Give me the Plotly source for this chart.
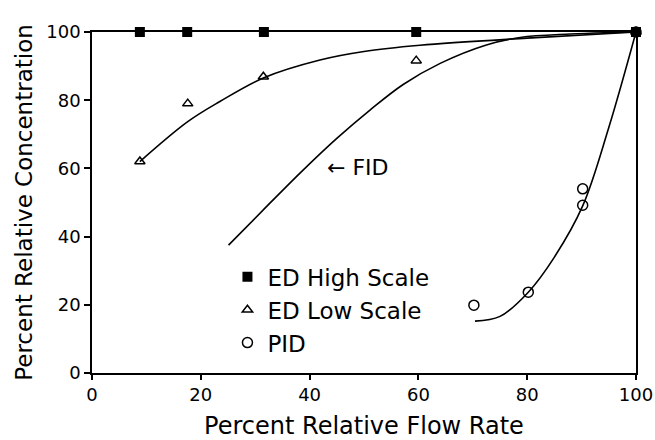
import plotly.graph_objects as go

# Measured points
ed_high_x = [8.8, 17.5, 31.6, 59.6, 100]
ed_high_y = [100, 100, 100, 100, 100]

ed_low_x = [8.8, 17.6, 31.5, 59.6, 100]
ed_low_y = [62.0, 79.0, 86.9, 91.6, 100]

pid_x = [70.2, 80.2, 90.2, 90.2, 100]
pid_y = [19.9, 23.7, 54.0, 49.2, 100]

# Fitted curves
ed_low_fit_x = [8.8, 17.6, 23.5, 31.6, 41.9, 50.0, 60.3, 80.0, 100]
ed_low_fit_y = [62.0, 73.7, 79.6, 86.6, 91.8, 94.3, 96.1, 98.2, 100]

fid_fit_x = [25.1, 32.7, 38.8, 45.0, 51.1, 57.2, 64.0, 72.5, 78.7, 87.9, 100]
fid_fit_y = [37.5, 49.8, 59.5, 68.8, 77.1, 84.6, 90.8, 96.2, 98.4, 99.4, 100]

pid_fit_x = [70.4, 75.0, 80.2, 85.0, 90.2, 95.0, 100]
pid_fit_y = [15.2, 16.6, 23.7, 34.0, 49.0, 72.0, 100]

x_ticks = [0, 20, 40, 60, 80, 100]
y_ticks = [0, 20, 40, 60, 80, 100]

FONT = "DejaVu Sans"
line_style = dict(color="black", width=1.6, shape="spline", smoothing=1.0)

fig = go.Figure()
for fx, fy in [(ed_low_fit_x, ed_low_fit_y), (fid_fit_x, fid_fit_y), (pid_fit_x, pid_fit_y)]:
    fig.add_trace(go.Scatter(x=fx, y=fy, mode="lines", line=line_style,
                             showlegend=False, hoverinfo="skip"))

fig.add_trace(go.Scatter(x=ed_low_x, y=ed_low_y, mode="markers", name="ED Low Scale",
                         cliponaxis=False, legendrank=2,
                         marker=dict(symbol="triangle-up-open", size=9, color="black",
                                     line=dict(width=1.5, color="black"))))
fig.add_trace(go.Scatter(x=pid_x, y=pid_y, mode="markers", name="PID",
                         cliponaxis=False, legendrank=3,
                         marker=dict(symbol="circle-open", size=10, color="black",
                                     line=dict(width=1.5, color="black"))))
fig.add_trace(go.Scatter(x=ed_high_x, y=ed_high_y, mode="markers", name="ED High Scale",
                         cliponaxis=False, legendrank=1,
                         marker=dict(symbol="square", size=10, color="black")))

fig.add_annotation(x=42.8, y=60.4, xref="x", yref="y", text="← FID", showarrow=False,
                   xanchor="left", yanchor="middle",
                   font=dict(family=FONT, size=22, color="black"))

fig.update_layout(
    width=655, height=440,
    margin=dict(l=92, r=19, t=32, b=67, autoexpand=False),
    paper_bgcolor="white", plot_bgcolor="white",
    font=dict(family=FONT, color="black"),
    legend=dict(x=0.249, y=0.345, xanchor="left", yanchor="top",
                bgcolor="rgba(0,0,0,0)", font=dict(family=FONT, size=23, color="black"),
                itemwidth=30, tracegroupgap=0),
    xaxis=dict(range=[0, 100], tickvals=x_ticks, ticks="outside", ticklen=5, tickwidth=1.5,
               tickcolor="black", showline=True, linecolor="black", linewidth=1.6,
               mirror=True, showgrid=False, zeroline=False, automargin=False,
               tickfont=dict(family=FONT, size=18, color="black"),
               title=dict(text="Percent Relative Flow Rate", standoff=24,
                          font=dict(family=FONT, size=24, color="black"))),
    yaxis=dict(range=[0, 100], tickvals=y_ticks, ticks="outside", ticklen=6, tickwidth=1.5,
               tickcolor="black", showline=True, linecolor="black", linewidth=1.6,
               mirror=True, showgrid=False, zeroline=False, automargin=False,
               tickfont=dict(family=FONT, size=18, color="black"),
               title=dict(text="Percent Relative Concentration", standoff=7,
                          font=dict(family=FONT, size=23, color="black"))),
)

fig.write_html("out.html")
